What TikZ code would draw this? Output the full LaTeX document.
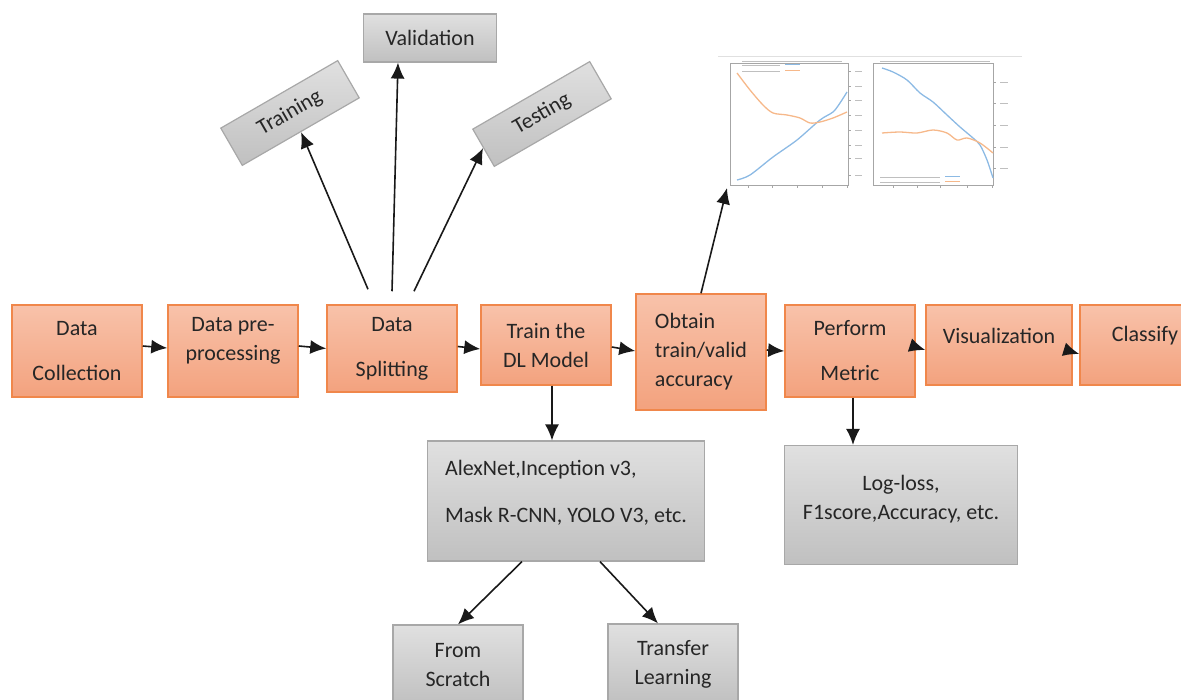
\documentclass[tikz,border=0pt]{standalone}
\usepackage{fontspec}
\setmainfont{Carlito}
\usetikzlibrary{arrows.meta}

\definecolor{stageline}{RGB}{240,135,75}
\definecolor{stagetop}{RGB}{248,194,170}
\definecolor{stagebot}{RGB}{243,162,126}
\definecolor{greyline}{RGB}{168,168,168}
\definecolor{greytop}{RGB}{224,224,224}
\definecolor{greybot}{RGB}{192,192,192}
\definecolor{lossblue}{RGB}{140,186,228}
\definecolor{lossorange}{RGB}{246,184,138}

\tikzset{
  every node/.style={font=\fontsize{22}{29}\selectfont, text=black!85},
  stage/.style={draw=stageline, line width=1.5pt, top color=stagetop, bottom color=stagebot,
    minimum width=130pt, minimum height=80pt, align=center, inner sep=0pt},
  greybox/.style={draw=greyline, line width=1.2pt, top color=greytop, bottom color=greybot,
    minimum width=130pt, minimum height=48pt, align=center, inner sep=0pt},
  arr/.style={-{Latex[length=16pt,width=14pt]}, line width=1.6pt, black!90},
  axisline/.style={black!35, line width=0.8pt},
  blurtext/.style={black!25, line width=1.2pt}
}

\begin{document}
\begin{tikzpicture}[x=1pt,y=-1pt]
    \useasboundingbox (0,0) rectangle (1181,700);

    % main pipeline
    \node[stage, minimum height=92pt] (dc) at (77,351) {Data\\[16pt]Collection};
    \node[stage, minimum height=92pt] (dp) at (233,351) {};
    \node[align=center] (dpt) at (233,341) {Data pre-\\processing};
    \node[stage, minimum height=87pt] (ds) at (392,348.5) {Data\\[16pt]Splitting};
    \node[stage] (dl) at (546,345) {Train the\\DL Model};
    \node[stage, minimum height=116pt, align=left] (acc) at (701,352) {Obtain\\train/valid\\accuracy};
    \node[stage, minimum height=92pt] (pm) at (850,351) {Perform\\[16pt]Metric};
    \node[stage, minimum width=146pt] (vis) at (999,345) {};
    \node (vist) at (999,336) {Visualization};
    \node[stage] (cls) at (1145,345) {};
    \node (clst) at (1145,336) {Classify};

    \draw[arr] ([yshift=5pt]dc.east) -- ([yshift=3pt]dp.west);
    \draw[arr] ([yshift=5pt]dp.east) -- (ds.west);
    \draw[arr] ([yshift=2pt]ds.east) -- ([yshift=-4pt]dl.west);
    \draw[arr] ([yshift=-2pt]dl.east) -- ([yshift=1pt]acc.west);
    \draw[arr] ([yshift=2pt]acc.east) -- (pm.west);
    \draw[arr] ([yshift=4pt]pm.east) -- ([yshift=-5pt]vis.west);
    \draw[arr] ([yshift=-7pt]vis.east) -- ([yshift=-9pt]cls.west);

    % splitting
    \node[greybox, minimum width=133pt] (val) at (430,38) {Validation};
    \node[greybox, minimum width=135pt, minimum height=43pt, rotate=30] (trn) at (290,113) {Training};
    \node[greybox, minimum width=135pt, minimum height=43pt, rotate=30] (tst) at (542,114) {Testing};

    \draw[arr] ([xshift=-24pt,yshift=15pt]ds.north) -- (trn.south);
    \draw[arr] ([yshift=13pt]ds.north) -- ([xshift=-32pt]val.south);
    \draw[arr] ([xshift=22pt,yshift=13pt]ds.north) -- (tst.west);

    % models
    \node[greybox, minimum width=277pt, minimum height=120pt] (alex) at (566,501) {};
    \node[align=left] (alext) at (566,493) {AlexNet,Inception v3,\\[18pt]Mask R-CNN, YOLO V3, etc.};
    \node[greybox, minimum height=80pt] (scr) at (458,665) {From\\Scratch};
    \node[greybox, minimum height=80pt] (tl) at (673,664) {Transfer\\Learning};

    \draw[arr] ([xshift=6pt]dl.south) -- ([xshift=-14pt]alex.north);
    \draw[arr] ([xshift=-44pt]alex.south) -- (scr.north);
    \draw[arr] ([xshift=34pt]alex.south) -- ([xshift=-15pt]tl.north);

    % metrics
    \node[greybox, minimum width=233pt, minimum height=119pt] (met) at (901,505) {};
    \node[align=center] (mett) at (901,499) {Log-loss,\\F1score,Accuracy, etc.};
    \draw[arr] ([xshift=3pt]pm.south) -- ([xshift=-48pt]met.north);

    % loss / accuracy curves
    \coordinate (plt) at (727,188);
    \draw[black!12, line width=1pt] (718,57) -- (1022,57);
    \draw[blurtext, line width=0.8pt] (742,61) -- (842,61);
    \draw[blurtext, line width=0.8pt] (880,61) -- (990,61);
    \draw[axisline] (730,63) rectangle (848,185);
    \draw[axisline] (873,63) rectangle (993,185);
    \foreach \tx in {748,772,797,822,847}
        \draw[axisline] (\tx,185) -- (\tx,188);
    \foreach \tx in {893,917,940,967,992}
        \draw[axisline] (\tx,185) -- (\tx,188);
    \foreach \ty in {71,86,100,115,130,145,158,175}
        {\draw[axisline] (848,\ty) -- (851,\ty);
         \draw[blurtext, line width=0.8pt] (855,\ty) -- (862,\ty);}
    \foreach \ty in {82,103,125,147,168}
        {\draw[axisline] (993,\ty) -- (996,\ty);
         \draw[blurtext, line width=0.8pt] (1000,\ty) -- (1008,\ty);}
    \draw[lossblue, line width=1.3pt] plot[smooth] coordinates
        {(737,180) (750,175) (773,157) (797,140) (820,120) (833,112) (840,103) (847,92)};
    \draw[lossorange, line width=1.3pt] plot[smooth] coordinates
        {(737,73) (750,90) (763,105) (773,113) (787,115) (800,118) (810,123) (820,122) (833,118) (847,112)};
    \draw[lossblue, line width=1.3pt] plot[smooth] coordinates
        {(882,68) (893,72) (907,80) (920,93) (933,102) (947,115) (960,127) (973,138) (980,145) (987,160) (993,178)};
    \draw[lossorange, line width=1.3pt] plot[smooth] coordinates
        {(882,133) (900,132) (917,133) (933,130) (947,133) (957,140) (967,138) (980,143) (993,153)};
    \draw[lossblue, line width=1pt] (785,65) -- (800,65);
    \draw[lossorange, line width=1pt] (785,71) -- (800,71);
    \draw[blurtext, line width=0.8pt] (742,65) -- (780,65);
    \draw[blurtext, line width=0.8pt] (742,71) -- (780,71);
    \draw[lossblue, line width=1pt] (945,177) -- (960,177);
    \draw[lossorange, line width=1pt] (945,182) -- (960,182);
    \draw[blurtext, line width=0.8pt] (880,177) -- (940,177);
    \draw[blurtext, line width=0.8pt] (880,182) -- (940,182);

    \draw[arr] (acc.north) -- (plt);
\end{tikzpicture}
\end{document}
